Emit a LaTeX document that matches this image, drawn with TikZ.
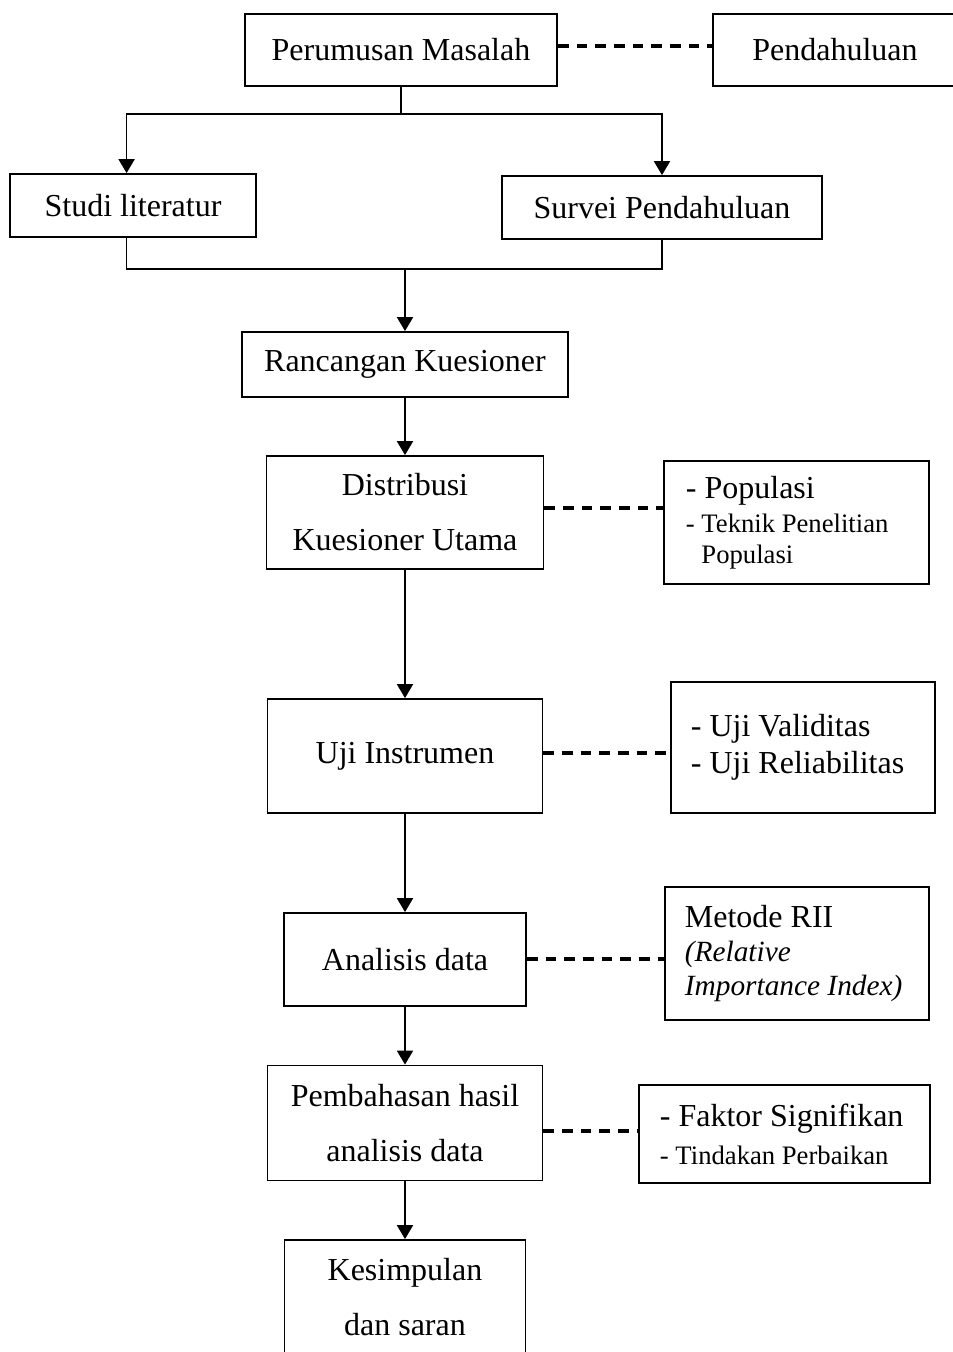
\documentclass[tikz,border=0pt]{standalone}
\usepackage{fontspec}
\setmainfont{Liberation Serif}
\usetikzlibrary{arrows.meta}

\begin{document}
\begin{tikzpicture}[x=0.375pt,y=-0.375pt,
		kotak/.style={draw, line width=0.7pt, inner sep=0pt, align=center, font=\fontsize{12}{20.6}\selectfont},
		catatan/.style={draw, line width=0.7pt, inner ysep=0pt, anchor=west, align=flush left},
		panah/.style={-{Triangle[length=5.2pt,width=6pt]}, line width=0.6pt},
		putus/.style={line width=1.2pt, dash pattern=on 4pt off 3pt}]
		\useasboundingbox (0,0) rectangle (952,1352);
		% Top row and the two branches
		\node[kotak, minimum width=117pt, minimum height=27pt] (perumusan) at (401,50) {Perumusan Masalah};
		\node[kotak, minimum width=91.5pt, minimum height=27pt] (pendahuluan) at (835,50) {Pendahuluan};
		\node[kotak, minimum width=92.25pt, minimum height=23.625pt] (studi) at (133,205.5) {Studi literatur};
		\node[kotak, minimum width=120pt, minimum height=23.625pt] (survei) at (662,207.5) {Survei Pendahuluan};
		\coordinate (cabang) at (401,114);
		\coordinate (gabung) at (405,269);
		% Main column
		\node[kotak, minimum width=122.25pt, minimum height=24.375pt] (rancangan) at (405,364.5) {Rancangan Kuesioner};
		\node[kotak, minimum width=103.875pt, minimum height=42.375pt] (distribusi) at (405,512.5) {Distribusi\\Kuesioner Utama};
		\node[kotak, minimum width=103.125pt, minimum height=42.75pt] (ujiinstrumen) at (405,756) {Uji Instrumen};
		\node[kotak, minimum width=90.75pt, minimum height=34.875pt] (analisis) at (405,959.5) {Analisis data};
		\node[kotak, minimum width=103.125pt, minimum height=43.125pt] (pembahasan) at (405,1123) {Pembahasan hasil\\analisis data};
		\node[kotak, minimum width=90.375pt, minimum height=43.125pt] (kesimpulan) at (405,1297.5) {Kesimpulan\\dan saran};
		% Notes on the right
		\node[catatan, inner xsep=8.25pt, text width=82.875pt, minimum height=46.125pt, font=\fontsize{12}{12.75}\selectfont] (populasi) at (663,522.5)
		{- Populasi\\{\fontsize{10}{12}\selectfont - Teknik Penelitian}\\[-1.2pt]{\fontsize{10}{12}\selectfont\phantom{- }Populasi}};
		\node[catatan, inner xsep=7.5pt, text width=84pt, minimum height=49.125pt, font=\fontsize{12}{13.9}\selectfont] (validitas) at (670,747.5)
		{- Uji Validitas\\- Uji Reliabilitas};
		\node[catatan, inner xsep=7.5pt, text width=84pt, minimum height=49.875pt, font=\fontsize{12}{12.9}\selectfont] (metode) at (664,953.5)
		{Metode RII\\{\fontsize{11}{12.9}\selectfont\itshape (Relative}\\{\fontsize{11}{12.9}\selectfont\itshape Importance Index)}};
		\node[catatan, inner xsep=7.875pt, text width=93.375pt, minimum height=36.75pt, font=\fontsize{12}{14.2}\selectfont] (faktor) at (638,1134)
		{- Faktor Signifikan\\{\fontsize{10}{12}\selectfont - Tindakan Perbaikan}};
		% Connectors
		\draw[line width=0.6pt] (perumusan) -- (cabang);
		\draw[panah] (cabang) -| ([xshift=-2.4pt]studi.north);
		\draw[panah] (cabang) -| (survei);
		\draw[line width=0.6pt] ([xshift=-2.4pt]studi.south) |- (gabung) -| (survei);
		\draw[panah] (gabung) -- (rancangan);
		\foreach \dari/\ke in {rancangan/distribusi, distribusi/ujiinstrumen, ujiinstrumen/analisis, analisis/pembahasan, pembahasan/kesimpulan}
		{\draw[panah] (\dari) -- (\ke);}
		% Dashed links, shifted a little up or down
		\foreach \dari/\ke/\dy in {perumusan/pendahuluan/-4, distribusi/populasi/-4.5, ujiinstrumen/validitas/-3, analisis/metode/-0.5, pembahasan/faktor/8}
		{\coordinate (p) at ([shift={(0,\dy)}]\dari.east);
			\draw[putus] (p) -- (p -| \ke.west);}
	\end{tikzpicture}
\end{document}
